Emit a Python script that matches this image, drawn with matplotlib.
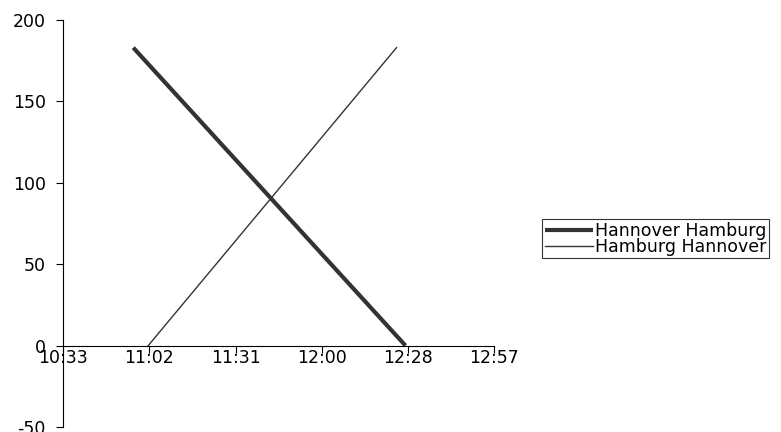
import matplotlib
matplotlib.use('Agg')
import matplotlib.pyplot as plt
from matplotlib.ticker import FixedLocator, FixedFormatter

plt.rcParams['font.family'] = ['DejaVu Sans']
plt.rcParams['font.size'] = 12.5
plt.rcParams['axes.unicode_minus'] = False

# Fahrplan: Uhrzeit -> Kilometer
series_names = ['Hannover Hamburg', 'Hamburg Hannover']
times_hh = ['10:57', '12:28']
km_hh = [183, 0]
times_hhn = ['11:02', '12:25']
km_hhn = [0, 183]

x_ticks = [0.44, 0.46, 0.48, 0.50, 0.52, 0.54]
x_labels = ['10:33', '11:02', '11:31', '12:00', '12:28', '12:57']
y_ticks = [-50, 0, 50, 100, 150, 200]


def to_day(t):
    h, m = t.split(':')
    return (int(h) * 60 + int(m)) / 1440.0


fig = plt.figure(figsize=(7.81, 4.32), dpi=100)
ax = fig.add_axes([63.3 / 781, 1 - 427 / 432, (494 - 63.3) / 781, (427 - 20) / 432])

ax.plot([to_day(t) for t in times_hh], km_hh, color='#333333', lw=3.0,
        solid_capstyle='butt', label=series_names[0])
ax.plot([to_day(t) for t in times_hhn], km_hhn, color='#333333', lw=1.0,
        label=series_names[1])

ax.set_xlim(0.44, 0.54)
ax.set_ylim(-50, 200)

ax.spines['top'].set_visible(False)
ax.spines['right'].set_visible(False)
ax.spines['bottom'].set_position(('data', 0))
for s in ('left', 'bottom'):
    ax.spines[s].set_linewidth(0.8)
    ax.spines[s].set_color('black')

ax.xaxis.set_major_locator(FixedLocator(x_ticks))
ax.xaxis.set_major_formatter(FixedFormatter(x_labels))
ax.set_yticks(y_ticks)
ax.tick_params(axis='x', direction='out', length=5, width=0.8, pad=-2.5)
ax.tick_params(axis='y', direction='out', length=5, width=0.8, pad=7.5)

leg = fig.legend(loc='upper left', bbox_to_anchor=(542 / 781, 1 - 219 / 432),
                 frameon=True, fancybox=False, borderpad=0.15, handlelength=2.8,
                 handletextpad=0.1, labelspacing=-0.1, borderaxespad=0)
leg.get_frame().set_edgecolor('black')
leg.get_frame().set_linewidth(0.8)

fig.savefig('out.png', dpi=100)
